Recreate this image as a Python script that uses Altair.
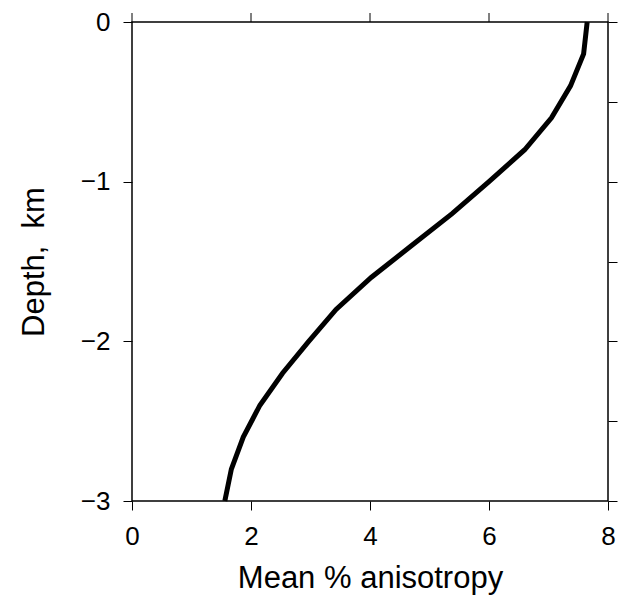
import altair as alt
import pandas as pd

depth = [0.0, -0.2, -0.4, -0.6, -0.8, -1.0, -1.2, -1.4, -1.6, -1.8, -2.0, -2.2, -2.4, -2.6, -2.8, -3.0]
anisotropy = [7.65, 7.59, 7.37, 7.05, 6.60, 6.00, 5.38, 4.70, 4.02, 3.43, 2.97, 2.53, 2.15, 1.87, 1.67, 1.56]
x_ticks = [0, 2, 4, 6, 8]
y_ticks = [-3, -2.5, -2, -1.5, -1, -0.5, 0]

df = pd.DataFrame({"depth": depth, "aniso": anisotropy})
xt = pd.DataFrame({"t": x_ticks})

FONT = "Liberation Sans"

xs = alt.Scale(domain=[0, 8], nice=False, zero=False)
ys = alt.Scale(domain=[-3, 0], nice=False, zero=False)

main = alt.Chart(df).mark_line(color="black", strokeWidth=5, strokeJoin="miter").encode(
    x=alt.X("aniso:Q", scale=xs,
            axis=alt.Axis(values=x_ticks, format="d", title="Mean % anisotropy", orient="bottom",
                          labelPadding=13, titlePadding=14, labelFlush=False)),
    y=alt.Y("depth:Q", scale=ys,
            axis=alt.Axis(values=y_ticks, format="d", orient="left", labelFlush=False,
                          labelExpr="datum.value % 1 == 0 ? datum.label : ''",
                          title="Depth,\u00a0 km", labelPadding=13, titlePadding=30)),
    order=alt.Order("depth:Q", sort="descending"),
)

top_ticks = alt.Chart(xt).mark_rule(color="black", strokeWidth=1).encode(
    x=alt.X("t:Q", scale=xs, axis=None),
    y=alt.value(-9),
    y2=alt.value(0),
)

ghost_y = alt.Chart(df).mark_line(strokeOpacity=0).encode(
    x=alt.X("aniso:Q", scale=xs, axis=None),
    y=alt.Y("depth:Q", scale=ys,
            axis=alt.Axis(values=y_ticks, orient="right", labels=False, title=None,
                          ticks=True, domain=False)),
)

chart = alt.layer(main, top_ticks, ghost_y).resolve_axis(x="independent", y="independent").properties(
    width=476, height=479,
    background="white",
    autosize=alt.AutoSizeParams(type="none"),
    padding={"left": 132, "top": 22, "right": 18, "bottom": 98},
).configure_view(stroke="black", strokeWidth=1.5).configure_axis(
    domain=False, grid=False, tickColor="black", tickSize=9, tickWidth=1,
    labelFont=FONT, labelFontSize=26, labelColor="black",
    titleFont=FONT, titleFontSize=31, titleFontWeight="normal", titleColor="black",
)

chart.save("out.html", embed_options={"renderer": "svg", "actions": False})
